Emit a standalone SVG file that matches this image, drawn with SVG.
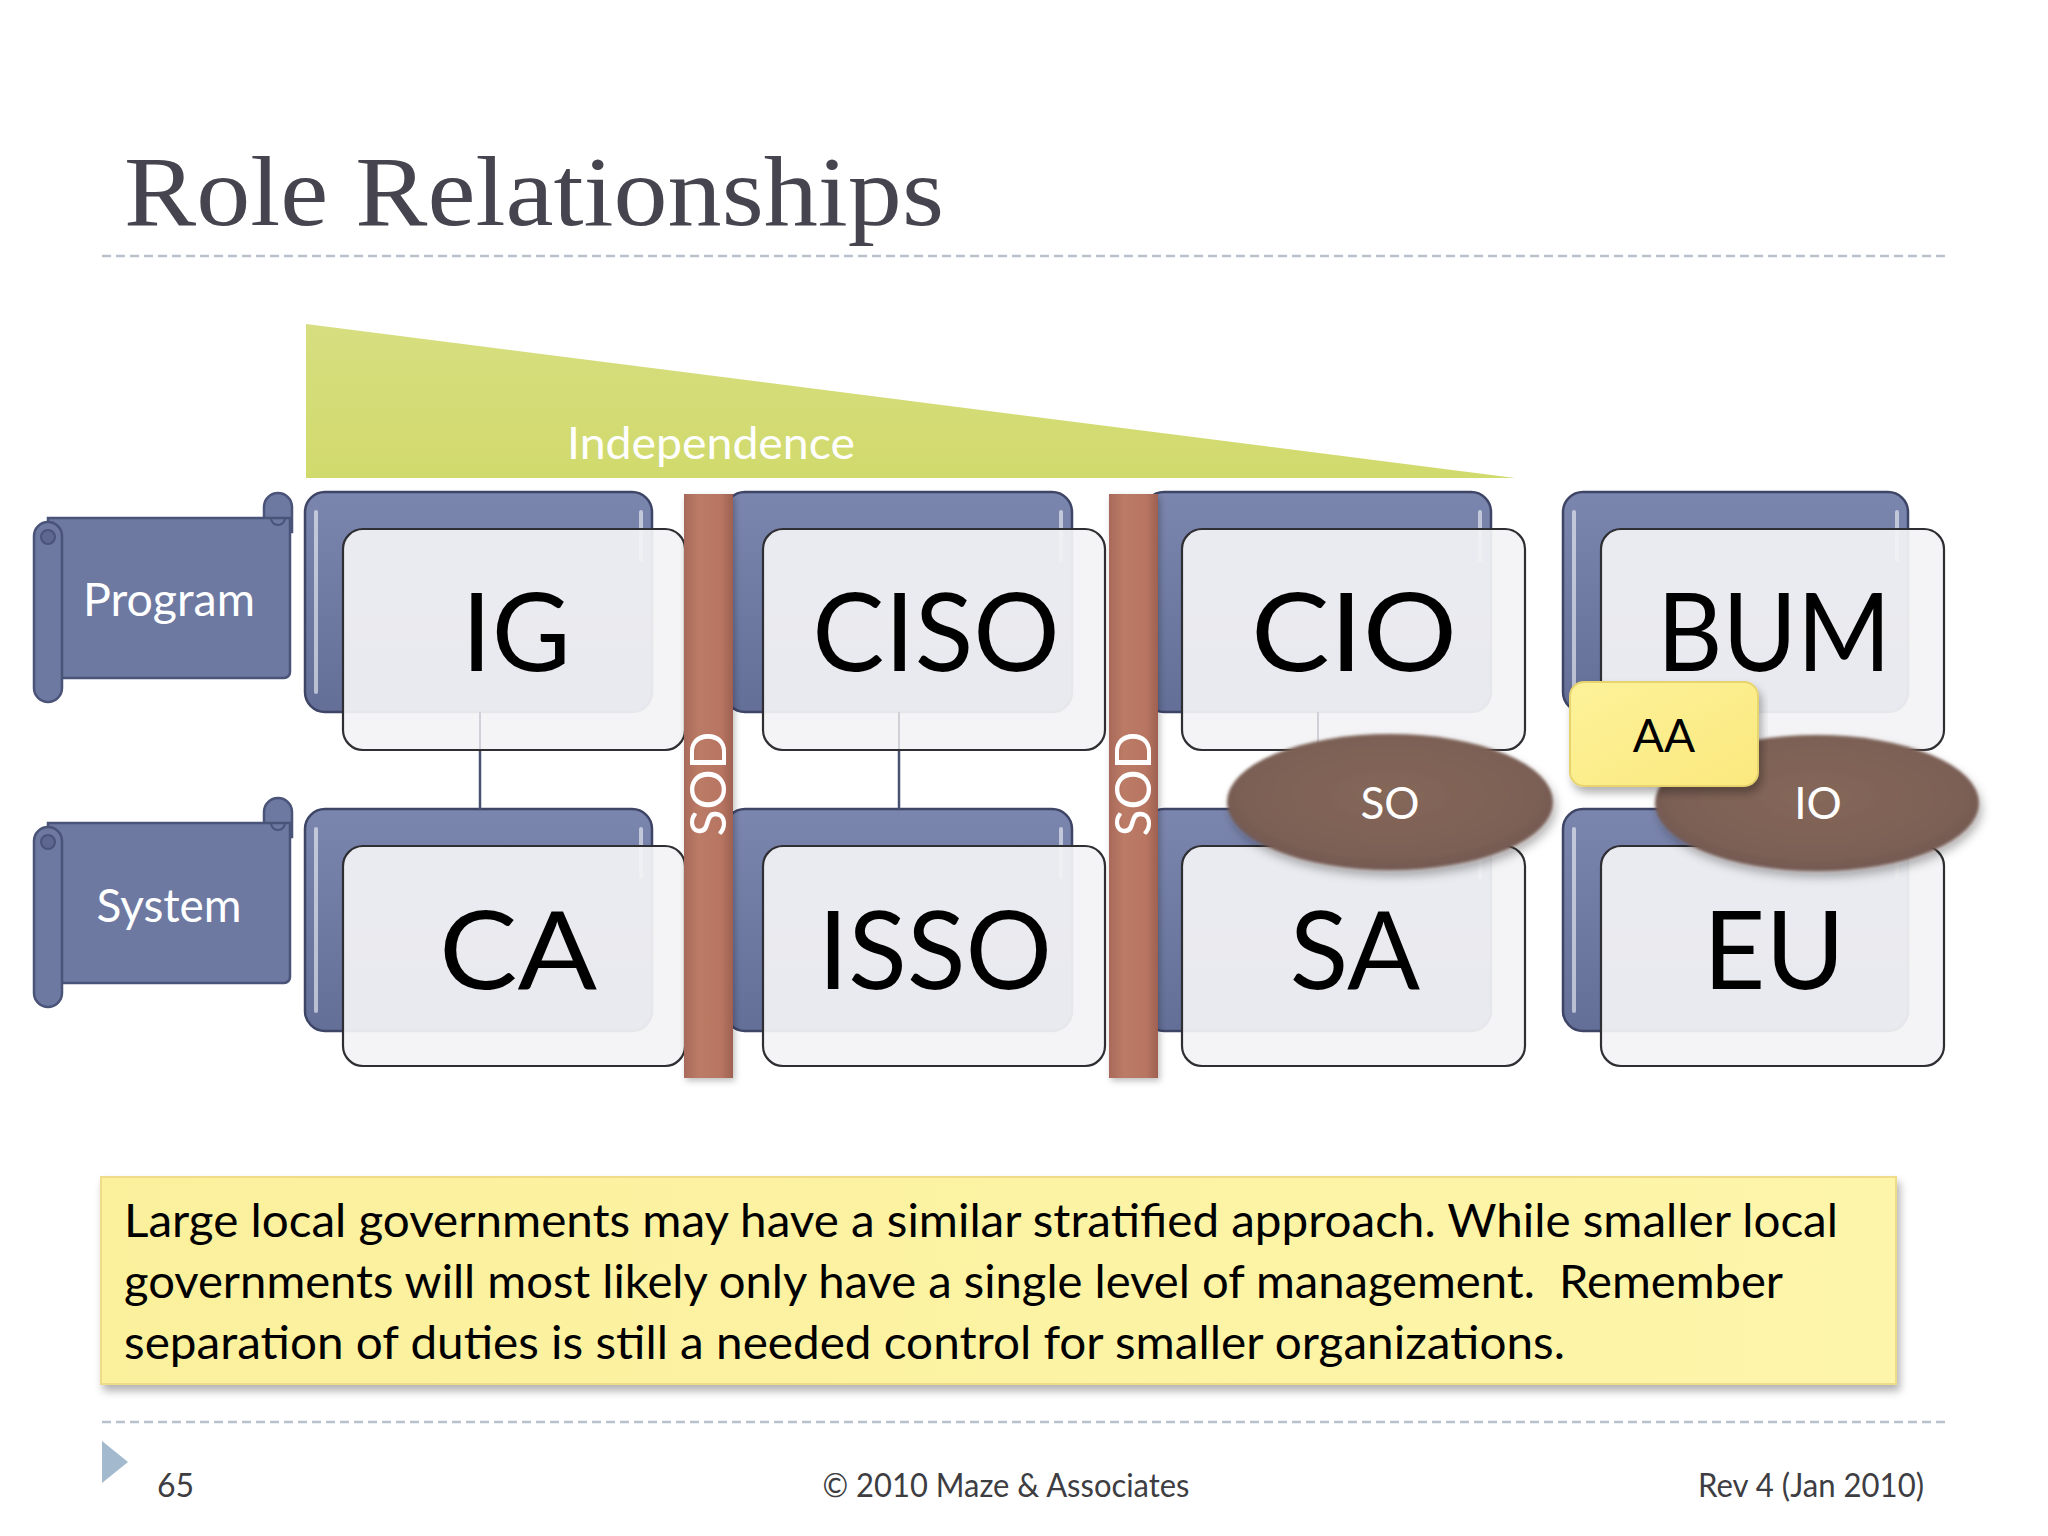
<svg xmlns="http://www.w3.org/2000/svg" width="2048" height="1536" viewBox="0 0 2048 1536">
<defs>
<style>
.lato{font-family:Lato,"Gill Sans","Open Sans","DejaVu Sans",sans-serif}
.ban{fill:#6e79a2;stroke:#4a5378;stroke-width:2.5}
.banTxt{font-family:Lato,"Open Sans",sans-serif;font-size:46px;fill:#ffffff;text-anchor:middle}
.back{fill:url(#gBack);stroke:#3e4566;stroke-width:2.5}
.hl{stroke:#ffffff;stroke-opacity:0.55;stroke-width:4;stroke-linecap:round}
.front{fill:#f3f3f5;fill-opacity:0.93;stroke:#2e2e33;stroke-width:2.2}
.lbl{font-family:Lato,"Open Sans",sans-serif;font-size:108px;fill:#000000;text-anchor:middle}
.sod{fill:url(#gSod)}
.sodTxt{font-family:Lato,"Open Sans",sans-serif;font-size:50px;fill:#ffffff;text-anchor:middle}
.ell{fill:url(#gEll);filter:url(#shadow)}
.ellTxt{font-family:Lato,"Open Sans",sans-serif;font-size:44px;fill:#ffffff;text-anchor:middle}
.conn{stroke:#4a5272;stroke-width:2.5}
.connFaint{stroke:#cfd0d8;stroke-width:2}
.dash{stroke:#b9c2cc;stroke-width:2.5;stroke-dasharray:9 5}
.foot{font-family:Lato,"Open Sans",sans-serif;font-size:32px;fill:#3d3d42}
.note{font-family:Lato,"Open Sans",sans-serif;font-size:46px;fill:#000000;white-space:pre}
</style>
<linearGradient id="gBack" x1="0" y1="0" x2="0" y2="1">
<stop offset="0" stop-color="#7b86ae"/>
<stop offset="1" stop-color="#646f98"/>
</linearGradient>
<linearGradient id="gSod" x1="0" y1="0" x2="1" y2="0">
<stop offset="0" stop-color="#a8695a"/>
<stop offset="0.3" stop-color="#bb7b66"/>
<stop offset="0.75" stop-color="#b87662"/>
<stop offset="1" stop-color="#9e6051"/>
</linearGradient>
<radialGradient id="gEll" cx="0.5" cy="0.45" r="0.55">
<stop offset="0" stop-color="#846759"/>
<stop offset="0.8" stop-color="#7c6055"/>
<stop offset="1" stop-color="#735850"/>
</radialGradient>
<linearGradient id="gTri" x1="0" y1="0" x2="0" y2="1">
<stop offset="0" stop-color="#d6de80"/>
<stop offset="1" stop-color="#d1da6c"/>
</linearGradient>
<linearGradient id="gAA" x1="0" y1="0" x2="1" y2="1">
<stop offset="0" stop-color="#fdf29a"/>
<stop offset="1" stop-color="#fbe97e"/>
</linearGradient>
<linearGradient id="gNote" x1="0" y1="0" x2="1" y2="0">
<stop offset="0" stop-color="#fbf09c"/>
<stop offset="1" stop-color="#fdf5aa"/>
</linearGradient>
<filter id="shadow" x="-20%" y="-30%" width="150%" height="170%">
<feGaussianBlur in="SourceGraphic" stdDeviation="1.5" result="b"/>
<feDropShadow in="b" dx="3" dy="6" stdDeviation="5" flood-color="#000000" flood-opacity="0.3"/>
</filter>
<filter id="boxShadow" x="-5%" y="-10%" width="110%" height="130%">
<feDropShadow dx="3" dy="6" stdDeviation="4" flood-color="#000000" flood-opacity="0.3"/>
</filter>
<filter id="barShadow" x="-30%" y="-5%" width="160%" height="110%">
<feDropShadow dx="2" dy="3" stdDeviation="3" flood-color="#000000" flood-opacity="0.25"/>
</filter>
</defs>

<rect width="2048" height="1536" fill="#ffffff"/>

<g id="title">
<text x="124" y="225" font-family="'Liberation Serif','DejaVu Serif',serif" font-size="100" fill="#46454f" textLength="820" lengthAdjust="spacingAndGlyphs">Role Relationships</text>
<line class="dash" x1="102" y1="256" x2="1946" y2="256"/>
</g>

<g id="independence">
<polygon points="306,324 306,478 1515,478" fill="url(#gTri)"/>
<text class="lato" x="567" y="459" font-size="44" fill="#ffffff" textLength="288" lengthAdjust="spacingAndGlyphs">Independence</text>
</g>

<g id="program">
<path class="ban" d="M264,532 V507 a14,14 0 0 1 28,0 V532 Z"/>
<path class="ban" d="M48,518 H290 V672 a6,6 0 0 1 -6,6 H48 Z"/>
<path d="M271,518 a7,7 0 0 0 14,0" fill="none" stroke="#4a5378" stroke-width="2"/>
<rect class="ban" x="34" y="522" width="28" height="180" rx="14"/>
<circle cx="48" cy="537" r="7" fill="#5d6790" stroke="#4a5378" stroke-width="2"/>
<text class="banTxt" x="169" y="616" textLength="172" lengthAdjust="spacingAndGlyphs">Program</text>
</g>

<g id="system">
<path class="ban" d="M264,837 V812 a14,14 0 0 1 28,0 V837 Z"/>
<path class="ban" d="M48,823 H290 V977 a6,6 0 0 1 -6,6 H48 Z"/>
<path d="M271,823 a7,7 0 0 0 14,0" fill="none" stroke="#4a5378" stroke-width="2"/>
<rect class="ban" x="34" y="827" width="28" height="180" rx="14"/>
<circle cx="48" cy="842" r="7" fill="#5d6790" stroke="#4a5378" stroke-width="2"/>
<text class="banTxt" x="169" y="922" textLength="145" lengthAdjust="spacingAndGlyphs">System</text>
</g>

<g id="node-IG">
<rect class="back" x="305" y="492" width="347" height="220" rx="20"/>
<line class="hl" x1="316" y1="512" x2="316" y2="692"/>
<line class="hl" x1="641" y1="512" x2="641" y2="560"/>
<rect class="front" x="343" y="529" width="342" height="221" rx="20"/>
<text class="lbl" x="516" y="671">IG</text>
</g>
<g id="node-CISO">
<rect class="back" x="725" y="492" width="347" height="220" rx="20"/>
<line class="hl" x1="1061" y1="512" x2="1061" y2="560"/>
<rect class="front" x="763" y="529" width="342" height="221" rx="20"/>
<text class="lbl" x="936" y="671">CISO</text>
</g>
<g id="node-CIO">
<rect class="back" x="1144" y="492" width="347" height="220" rx="20"/>
<line class="hl" x1="1480" y1="512" x2="1480" y2="560"/>
<rect class="front" x="1182" y="529" width="343" height="221" rx="20"/>
<text class="lbl" x="1354" y="671" textLength="206" lengthAdjust="spacingAndGlyphs">CIO</text>
</g>
<g id="node-BUM">
<rect class="back" x="1563" y="492" width="345" height="220" rx="20"/>
<line class="hl" x1="1574" y1="512" x2="1574" y2="692"/>
<line class="hl" x1="1897" y1="512" x2="1897" y2="560"/>
<rect class="front" x="1601" y="529" width="343" height="221" rx="20"/>
<text class="lbl" x="1774" y="671" textLength="234" lengthAdjust="spacingAndGlyphs">BUM</text>
</g>
<g id="node-CA">
<rect class="back" x="305" y="809" width="347" height="222" rx="20"/>
<line class="hl" x1="316" y1="829" x2="316" y2="1011"/>
<line class="hl" x1="641" y1="829" x2="641" y2="877"/>
<rect class="front" x="343" y="846" width="342" height="220" rx="20"/>
<text class="lbl" x="518" y="989" textLength="158" lengthAdjust="spacingAndGlyphs">CA</text>
</g>
<g id="node-ISSO">
<rect class="back" x="725" y="809" width="347" height="222" rx="20"/>
<line class="hl" x1="1061" y1="829" x2="1061" y2="877"/>
<rect class="front" x="763" y="846" width="342" height="220" rx="20"/>
<text class="lbl" x="935" y="989">ISSO</text>
</g>
<g id="node-SA">
<rect class="back" x="1144" y="809" width="347" height="222" rx="20"/>
<line class="hl" x1="1480" y1="829" x2="1480" y2="877"/>
<rect class="front" x="1182" y="846" width="343" height="220" rx="20"/>
<text class="lbl" x="1355" y="989">SA</text>
</g>
<g id="node-EU">
<rect class="back" x="1563" y="809" width="345" height="222" rx="20"/>
<line class="hl" x1="1574" y1="829" x2="1574" y2="1011"/>
<line class="hl" x1="1897" y1="829" x2="1897" y2="877"/>
<rect class="front" x="1601" y="846" width="343" height="220" rx="20"/>
<text class="lbl" x="1774" y="989">EU</text>
</g>

<g id="connectors">
<line class="connFaint" x1="480" y1="712" x2="480" y2="749"/>
<line class="conn" x1="480" y1="751" x2="480" y2="809"/>
<line class="connFaint" x1="899" y1="712" x2="899" y2="749"/>
<line class="conn" x1="899" y1="751" x2="899" y2="809"/>
<line class="connFaint" x1="1318" y1="712" x2="1318" y2="749"/>
<line class="conn" x1="1318" y1="751" x2="1318" y2="809"/>
<line class="connFaint" x1="1736" y1="712" x2="1736" y2="749"/>
<line class="conn" x1="1736" y1="751" x2="1736" y2="809"/>
</g>

<g id="sod-1">
<rect class="sod" x="684" y="494" width="49" height="584" filter="url(#barShadow)"/>
<text class="sodTxt" transform="translate(726,784) rotate(-90)">SOD</text>
</g>
<g id="sod-2">
<rect class="sod" x="1109" y="494" width="49" height="584" filter="url(#barShadow)"/>
<text class="sodTxt" transform="translate(1151,784) rotate(-90)">SOD</text>
</g>

<g id="node-SO">
<ellipse class="ell" cx="1390" cy="802" rx="163" ry="68"/>
<text class="ellTxt" x="1390" y="819">SO</text>
</g>
<g id="node-IO">
<ellipse class="ell" cx="1817" cy="803" rx="162" ry="68"/>
<text class="ellTxt" x="1818" y="819">IO</text>
</g>
<g id="node-AA">
<rect x="1570" y="682" width="188" height="104" rx="14" fill="url(#gAA)" stroke="#e8d46e" stroke-width="2" filter="url(#boxShadow)"/>
<text class="lato" x="1664" y="752" font-size="46" fill="#000000" text-anchor="middle">AA</text>
</g>

<g id="note">
<rect x="101" y="1177" width="1795" height="207" fill="url(#gNote)" stroke="#f0dc88" stroke-width="2" filter="url(#boxShadow)"/>
<text class="note" x="124" y="1237" textLength="1714" lengthAdjust="spacingAndGlyphs">Large local governments may have a similar stratified approach. While smaller local</text>
<text class="note" x="124" y="1298" textLength="1659" lengthAdjust="spacingAndGlyphs">governments will most likely only have a single level of management.  Remember</text>
<text class="note" x="124" y="1359" textLength="1441" lengthAdjust="spacingAndGlyphs">separation of duties is still a needed control for smaller organizations.</text>
</g>

<g id="footer">
<line class="dash" x1="102" y1="1422" x2="1946" y2="1422"/>
<polygon points="102,1441 128,1462 102,1483" fill="#a3b9cd"/>
<text class="foot" x="157" y="1497">65</text>
<text class="foot" x="1006" y="1497" text-anchor="middle" textLength="367" lengthAdjust="spacingAndGlyphs">© 2010 Maze &amp; Associates</text>
<text class="foot" x="1924" y="1497" text-anchor="end" textLength="226" lengthAdjust="spacingAndGlyphs">Rev 4 (Jan 2010)</text>
</g>
</svg>
